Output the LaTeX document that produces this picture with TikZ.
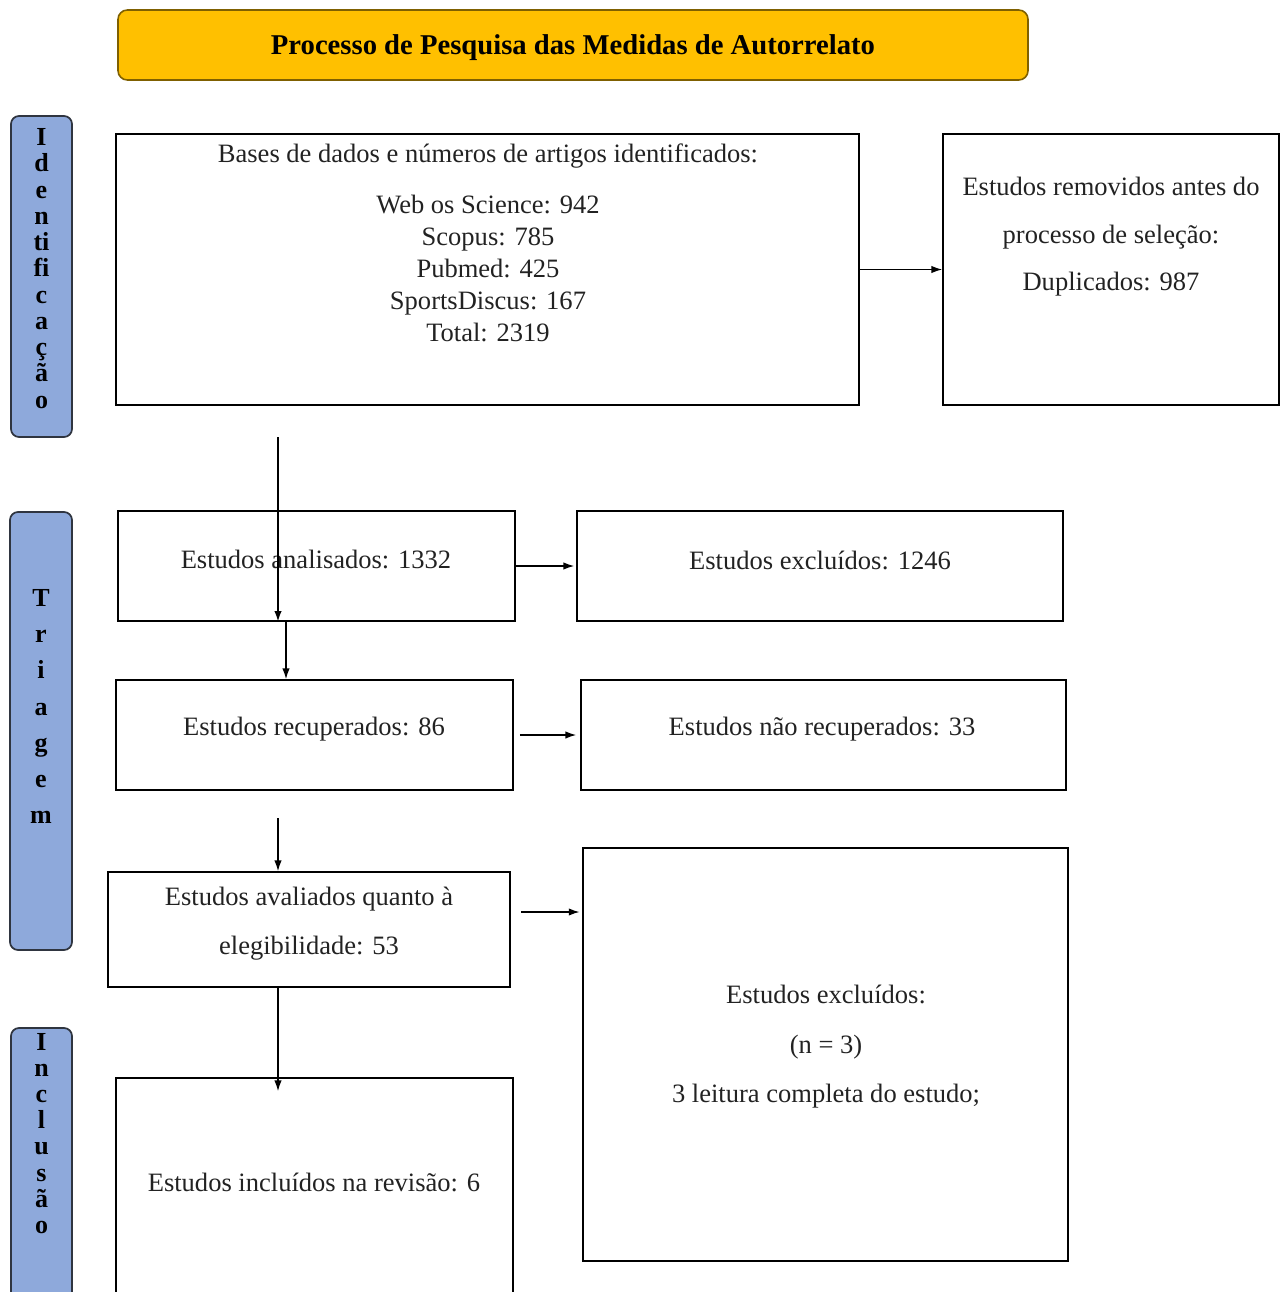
\documentclass[tikz,border=0pt]{standalone}
\usepackage{fontspec}
\setmainfont{Liberation Serif}
\usetikzlibrary{arrows.meta,calc}
\definecolor{gold}{HTML}{FFC000}
\definecolor{goldedge}{HTML}{7F6000}
\definecolor{phase}{HTML}{8EA9DB}
\definecolor{phaseedge}{HTML}{2F3540}
\definecolor{txtgray}{HTML}{222222}
\begin{document}
\begin{tikzpicture}[x=0.75pt,y=-0.75pt,
  box/.style={draw=black, line width=1.3pt, inner sep=0pt},
  phasebox/.style={draw=phaseedge, fill=phase, line width=1.3pt, rounded corners=6pt, inner sep=0pt},
  phasetxt/.style={font=\bfseries\fontsize{19.5}{19.7}\selectfont, align=center, inner sep=0pt},
  txt/.style={font=\fontsize{19.9}{22}\selectfont, text=txtgray, align=center, inner sep=0pt},
  arr/.style={-{Latex[length=8pt,width=5.5pt]}, line width=0.9pt}
]
\clip (0,0) rectangle (1281,1292);
\path[use as bounding box] (0,0) rectangle (1281,1292);

% title
\node[draw=goldedge, fill=gold, line width=1.2pt, rounded corners=7pt,
  minimum width={910*0.75pt}, minimum height={70*0.75pt}] (titlebox) at (573,45) {};
\node[font=\bfseries\fontsize{21.5}{24}\selectfont, inner sep=0pt] (title) at (573,48)
  {Processo de Pesquisa das Medidas de Autorrelato};

% phase labels
\node[phasebox, minimum width={61*0.75pt}, minimum height={321*0.75pt}] (ph1) at (41.5,276.5) {};
\node[phasetxt] (ph1t) at (41.5,268.5) {I\\d\\e\\n\\ti\\fi\\c\\a\\ç\\ã\\o};
\node[phasebox, minimum width={62*0.75pt}, minimum height={438*0.75pt}] (ph2) at (41,731) {};
\node[phasetxt, font=\bfseries\fontsize{19.5}{27.1}\selectfont] (ph2t) at (41,706.5) {T\\r\\i\\a\\g\\e\\m};
\node[phasebox, minimum width={61*0.75pt}, minimum height={282*0.75pt}] (ph3) at (41.5,1169) {};
\node[phasetxt, font=\bfseries\fontsize{19.5}{19.6}\selectfont] (ph3t) at (41.5,1133.5) {I\\n\\c\\l\\u\\s\\ã\\o};

% boxes
\node[box, minimum width={743*0.75pt}, minimum height={271*0.75pt}] (b1) at (487.5,269.5) {};
\node[box, minimum width={336*0.75pt}, minimum height={271*0.75pt}] (b2) at (1111,269.5) {};
\node[box, minimum width={397*0.75pt}, minimum height={110*0.75pt}] (b3) at (316.5,566) {};
\node[box, minimum width={486*0.75pt}, minimum height={110*0.75pt}] (b4) at (820,566) {};
\node[box, minimum width={397*0.75pt}, minimum height={110*0.75pt}] (b5) at (314.5,735) {};
\node[box, minimum width={485*0.75pt}, minimum height={110*0.75pt}] (b6) at (823.5,735) {};
\node[box, minimum width={402*0.75pt}, minimum height={115*0.75pt}] (b7) at (309,929.5) {};
\node[box, minimum width={485*0.75pt}, minimum height={413*0.75pt}] (b8) at (825.5,1054.5) {};
\node[box, minimum width={397*0.75pt}, minimum height={232*0.75pt}] (b9) at (314.5,1194) {};

% texts
\node[txt] (t1a) at (488,156) {Bases de dados e números de artigos identificados:};
\node[txt, font=\fontsize{19.9}{24}\selectfont] (t1b) at (488,268)
  {Web os Science: 942\\Scopus: 785\\Pubmed: 425\\SportsDiscus: 167\\Total: 2319};
\node[txt, font=\fontsize{19.9}{35.6}\selectfont] (t2) at (1111,237)
  {Estudos removidos antes do\\processo de seleção:\\Duplicados: 987};
\node[txt] (t3) at (316,559) {Estudos analisados: 1332};
\node[txt] (t4) at (820,560) {Estudos excluídos: 1246};
\node[txt] (t5) at (314,729) {Estudos recuperados: 86};
\node[txt] (t6) at (822,729) {Estudos não recuperados: 33};
\node[txt, font=\fontsize{19.9}{36.75}\selectfont] (t7) at (309,923.5)
  {Estudos avaliados quanto à\\elegibilidade: 53};
\node[txt, font=\fontsize{19.9}{37.1}\selectfont] (t8) at (826,1047)
  {Estudos excluídos:\\(n = 3)\\3 leitura completa do estudo;};
\node[txt] (t9) at (314,1182) {Estudos incluídos na revisão: 6};

% connectors
\draw[arr] (b1.east) -- (b2.west);
\draw[arr] (b3.east) -- ([xshift=-1.5pt]b4.west);
\draw[arr] ([xshift=4.5pt]b5.east) -- ([xshift=-3pt]b6.west);
\coordinate (c1) at (278,437);
\draw[arr, line width=1.5pt] (c1) -- (c1 |- b3.south);
\coordinate (c2) at (286,0);
\draw[arr] (b3.south -| c2) -- (b5.north -| c2);
\coordinate (c3) at (278,818);
\draw[arr] (c3) -- (c3 |- b7.north);
\draw[arr] (b7.south -| c3) -- ($(b9.north -| c3)+(0,14)$);
\coordinate (c5) at (521,912);
\draw[arr] (c5) -- ([xshift=-2pt]c5 -| b8.west);
\end{tikzpicture}
\end{document}
